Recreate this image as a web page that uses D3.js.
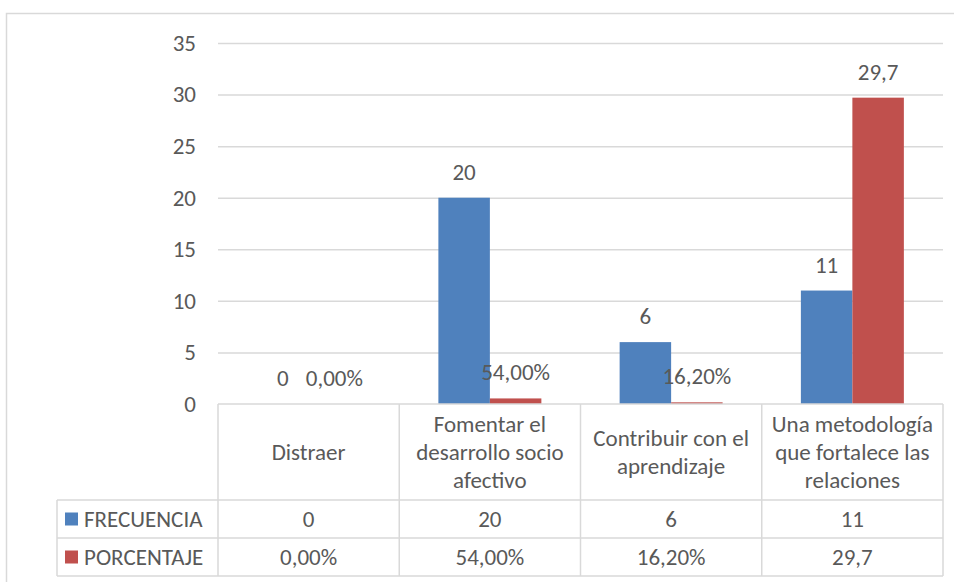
<!DOCTYPE html>
<html>
<head>
<meta charset="utf-8"/>
<title>Frecuencia y porcentaje</title>
<script src="https://d3js.org/d3.v7.min.js"></script>
<style>
  body { margin: 0; background: #fff; }
  text { font-family: Carlito, Calibri, Lato, "Open Sans", sans-serif; fill: #595959; }
</style>
</head>
<body>
<div id="chart"></div>
<script>
// data
var categories = [
  ["Distraer"],
  ["Fomentar el", "desarrollo socio", "afectivo"],
  ["Contribuir con el", "aprendizaje"],
  ["Una metodología", "que fortalece las", "relaciones"]
];
var seriesNames = ["FRECUENCIA", "PORCENTAJE"];
var frecuencia = [0, 20, 6, 11];
var porcentaje = [0, 0.54, 0.162, 29.7];
var frecuenciaLabels = ["0", "20", "6", "11"];
var porcentajeLabels = ["0,00%", "54,00%", "16,20%", "29,7"];
var yTicks = [0, 5, 10, 15, 20, 25, 30, 35];
var colors = ["#4F81BD", "#C0504D"];

var W = 954, H = 582;
var plot = {left: 218, right: 943, top: 43, bottom: 404};
var tableLeft = 57, headerBottom = 500, rowH = 38;
var fs = "23px";

var svg = d3.select("#chart").append("svg")
  .attr("width", W).attr("height", H);

// outer chart border
svg.append("rect")
  .attr("x", 6.5).attr("y", 13.5)
  .attr("width", W + 10).attr("height", H + 10)
  .attr("fill", "none").attr("stroke", "#D9D9D9").attr("stroke-width", 1.5);

var x0 = d3.scaleBand()
  .domain(d3.range(categories.length))
  .range([plot.left, plot.right]);

var x1 = d3.scaleBand()
  .domain([0, 1])
  .range([0, x0.bandwidth()])
  .paddingOuter(0.76);

var y = d3.scaleLinear().domain([0, 35]).range([plot.bottom, plot.top]);

// gridlines
svg.append("g").selectAll("line")
  .data(yTicks.filter(d => d > 0))
  .join("line")
  .attr("x1", plot.left).attr("x2", plot.right)
  .attr("y1", d => y(d) + 0.5).attr("y2", d => y(d) + 0.5)
  .attr("stroke", "#D9D9D9").attr("stroke-width", 1.5);

// y axis labels
var yAxis = d3.axisLeft(y).tickValues(yTicks).tickSize(0).tickPadding(22);
var ga = svg.append("g").attr("transform", "translate(" + plot.left + ",0)").call(yAxis);
ga.select(".domain").remove();
ga.selectAll("text")
  .style("font-family", "Carlito, Calibri, Lato, sans-serif")
  .style("font-size", fs).attr("fill", "#595959");

// bars
var series = [frecuencia, porcentaje];
var labels = [frecuenciaLabels, porcentajeLabels];
series.forEach(function(vals, s) {
  svg.append("g").selectAll("rect")
    .data(vals)
    .join("rect")
    .attr("x", (d, i) => x0(i) + x1(s))
    .attr("width", x1.bandwidth())
    .attr("y", d => y(d))
    .attr("height", d => y(0) - y(d))
    .attr("fill", colors[s]);

  svg.append("g").selectAll("text")
    .data(vals)
    .join("text")
    .attr("x", (d, i) => x0(i) + x1(s) + x1.bandwidth() / 2)
    .attr("y", d => y(d) - 18)
    .attr("text-anchor", "middle")
    .style("font-size", fs)
    .text((d, i) => labels[s][i]);
});

// data table
var grid = svg.append("g").attr("stroke", "#D9D9D9").attr("stroke-width", 1.5);
grid.append("line").attr("x1", plot.left).attr("x2", plot.right)
  .attr("y1", plot.bottom).attr("y2", plot.bottom);
[headerBottom, headerBottom + rowH, headerBottom + 2 * rowH].forEach(function(yy) {
  grid.append("line").attr("x1", tableLeft).attr("x2", plot.right)
    .attr("y1", yy).attr("y2", yy);
});
d3.range(categories.length + 1).forEach(function(i) {
  var xx = i < categories.length ? x0(i) : plot.right;
  grid.append("line").attr("x1", xx).attr("x2", xx)
    .attr("y1", plot.bottom).attr("y2", headerBottom + 2 * rowH);
});
grid.append("line").attr("x1", tableLeft).attr("x2", tableLeft)
  .attr("y1", headerBottom).attr("y2", headerBottom + 2 * rowH);

// category headers
var lineH = 28;
svg.append("g").selectAll("text")
  .data(categories)
  .join("text")
  .attr("text-anchor", "middle")
  .style("font-size", fs)
  .each(function(lines, i) {
    var cy = (plot.bottom + headerBottom) / 2;
    var start = cy - (lines.length - 1) * lineH / 2;
    d3.select(this).selectAll("tspan")
      .data(lines)
      .join("tspan")
      .attr("x", x0(i) + x0.bandwidth() / 2)
      .attr("y", (d, k) => start + k * lineH)
      .attr("dy", "0.35em")
      .text(d => d);
  });

// table rows
series.forEach(function(vals, s) {
  var cy = headerBottom + rowH * s + rowH / 2;
  svg.append("rect")
    .attr("x", 65).attr("y", cy - 6.5)
    .attr("width", 13).attr("height", 13)
    .attr("fill", colors[s]);
  svg.append("text")
    .attr("x", 84).attr("y", cy).attr("dy", "0.35em")
    .style("font-size", fs)
    .text(seriesNames[s]);
  svg.append("g").selectAll("text")
    .data(vals)
    .join("text")
    .attr("x", (d, i) => x0(i) + x0.bandwidth() / 2)
    .attr("y", cy).attr("dy", "0.35em")
    .attr("text-anchor", "middle")
    .style("font-size", fs)
    .text((d, i) => labels[s][i]);
});
</script>
</body>
</html>
